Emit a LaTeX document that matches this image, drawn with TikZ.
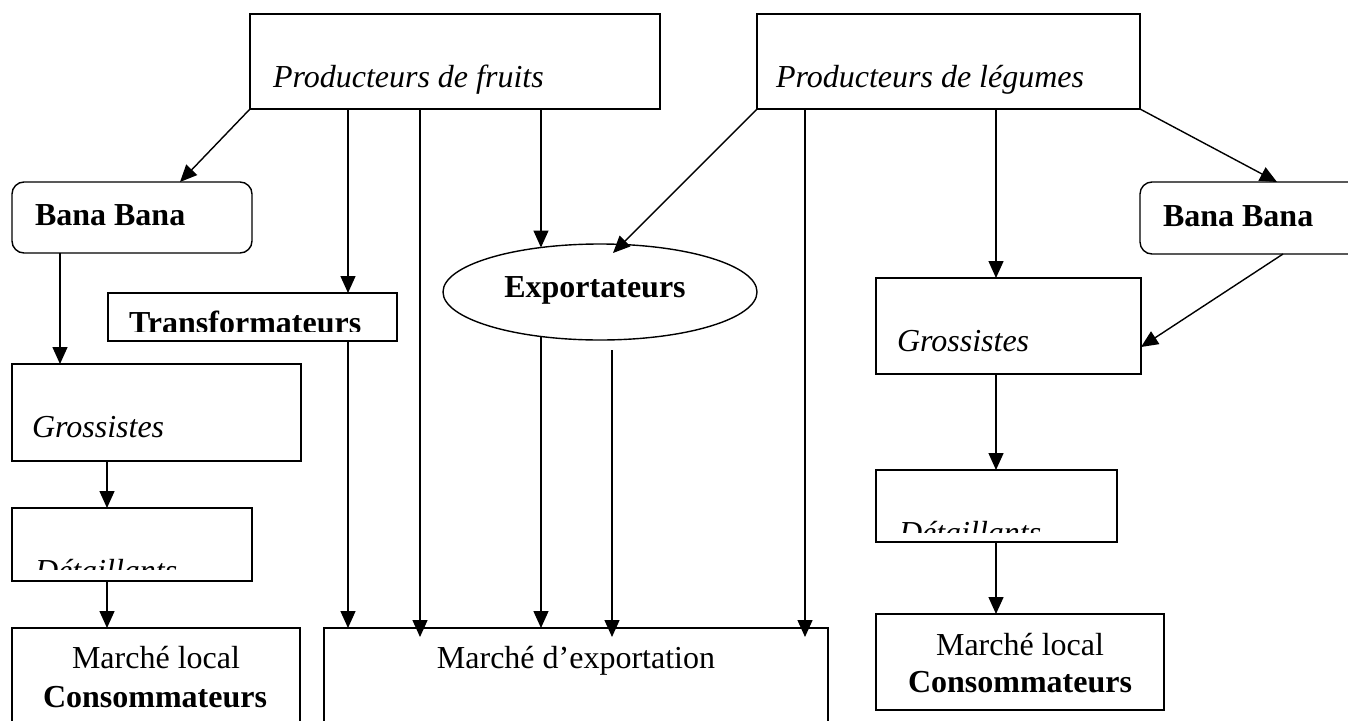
\documentclass[tikz,border=0pt]{standalone}
\usepackage{fontspec}
\setmainfont{Liberation Serif}
\usetikzlibrary{arrows.meta,shapes.geometric}
\begin{document}
\begin{tikzpicture}[x=1pt,y=-1pt,
  box/.style={draw,line width=1.4pt,inner sep=0pt,outer sep=0pt,anchor=north west},
  rbox/.style={box,rounded corners=12pt},
  txt/.style={inner sep=0pt,outer sep=0pt,font=\fontsize{32}{38}\selectfont},
  arr/.style={line width=1.4pt,-{Triangle[length=17pt,width=15pt]}},
  ln/.style={line width=1.4pt}]
\useasboundingbox (0,0) rectangle (1348,720);
% boxes
\node[box,minimum width=410pt,minimum height=95pt] (pf) at (250,14) {};
\node[box,minimum width=383pt,minimum height=95pt] (pl) at (757,14) {};
\node[rbox,minimum width=240pt,minimum height=71pt] (bbl) at (12,182) {};
\node[rbox,minimum width=260pt,minimum height=72pt] (bbr) at (1140,182) {};
\node[box,minimum width=289pt,minimum height=48pt] (tr) at (108,293) {};
\node[draw,ellipse,line width=1.4pt,inner sep=0pt,outer sep=0pt,minimum width=314pt,minimum height=96pt] (ex) at (600,292) {};
\node[box,minimum width=289pt,minimum height=97pt] (gl) at (12,364) {};
\node[box,minimum width=240pt,minimum height=73pt] (dl) at (12,508) {};
\node[box,minimum width=288pt,minimum height=120pt] (mll) at (12,628) {};
\node[box,minimum width=504pt,minimum height=120pt] (mex) at (324,628) {};
\node[box,minimum width=265pt,minimum height=96pt] (gr) at (876,278) {};
\node[box,minimum width=241pt,minimum height=72pt] (dr) at (876,470) {};
\node[box,minimum width=288pt,minimum height=96pt] (mlr) at (876,614) {};
% texts
\node[txt,anchor=base west] (pft) at (273,87) {\itshape Producteurs de fruits};
\node[txt,anchor=base west] (plt) at (776,87) {\itshape Producteurs de légumes};
\node[txt,anchor=base west] (bblt) at (35,225) {\bfseries Bana Bana};
\node[txt,anchor=base west] (bbrt) at (1163,226) {\bfseries Bana Bana};
\begin{scope}
\clip (108,293) rectangle (397,331);
\node[txt,anchor=base west] (trt) at (129,333) {\bfseries Transformateurs};
\end{scope}
\node[txt,anchor=base] (ext) at (595,297) {\bfseries Exportateurs};
\node[txt,anchor=base west] (glt) at (32,437) {\itshape Grossistes};
\node[txt,anchor=base west] (grt) at (897,351) {\itshape Grossistes};
\begin{scope}
\clip (12,508) rectangle (252,569);
\node[txt,anchor=base west] (dlt) at (35,581) {\itshape Détaillants};
\end{scope}
\begin{scope}
\clip (876,470) rectangle (1117,532);
\node[txt,anchor=base west] (drt) at (899,543) {\itshape Détaillants};
\end{scope}
\node[txt,anchor=base] (mllt1) at (156,668) {Marché local};
\node[txt,anchor=base] (mllt2) at (155,707) {\bfseries Consommateurs};
\node[txt,anchor=base] (mext) at (576,668) {Marché d’exportation};
\node[txt,anchor=base] (mlrt1) at (1020,655) {Marché local};
\node[txt,anchor=base] (mlrt2) at (1020,692) {\bfseries Consommateurs};
% helper coordinates
\coordinate (mexin) at ([yshift=-9pt]mex.north);
\coordinate (exin) at ([yshift=-9pt]ex.north);
\coordinate (exout) at ([yshift=-10pt]ex.south);
% connectors
\draw[arr] (pf.south west) -- (bbl.north -| 180,0);
\draw[arr] (pf.south -| 348,0) -- (tr.north -| 348,0);
\draw[arr] (pf.south -| 420,0) -- (mexin -| 420,0);
\draw[arr] (pf.south -| ex.143) -- (ex.143);
\draw[arr] (tr.south -| 348,0) -- (mex.north -| 348,0);
\draw[arr] (ex.217) -- (mex.north -| ex.217);
\draw[arr] (exout -| 612,0) -- (mexin -| 612,0);
\draw[arr] (pl.south west) -- (exin -| 613,0);
\draw[arr] (pl.south -| 805,0) -- (mexin -| 805,0);
\draw[arr] (pl.south -| 996,0) -- (gr.north -| 996,0);
\draw[arr] (pl.south east) -- (bbr.north -| 1277,0);
\draw[arr] (bbr.south -| 1283,0) -- (gr.east |- 0,347);
\draw[arr] (gr.south -| 996,0) -- (dr.north -| 996,0);
\draw[arr] (dr.south -| 996,0) -- (mlr.north -| 996,0);
\draw[arr] (bbl.south -| 60,0) -- (gl.north -| 60,0);
\draw[arr] (gl.south -| 107,0) -- (dl.north -| 107,0);
\draw[arr] (dl.south -| 107,0) -- (mll.north -| 107,0);
\end{tikzpicture}
\end{document}
